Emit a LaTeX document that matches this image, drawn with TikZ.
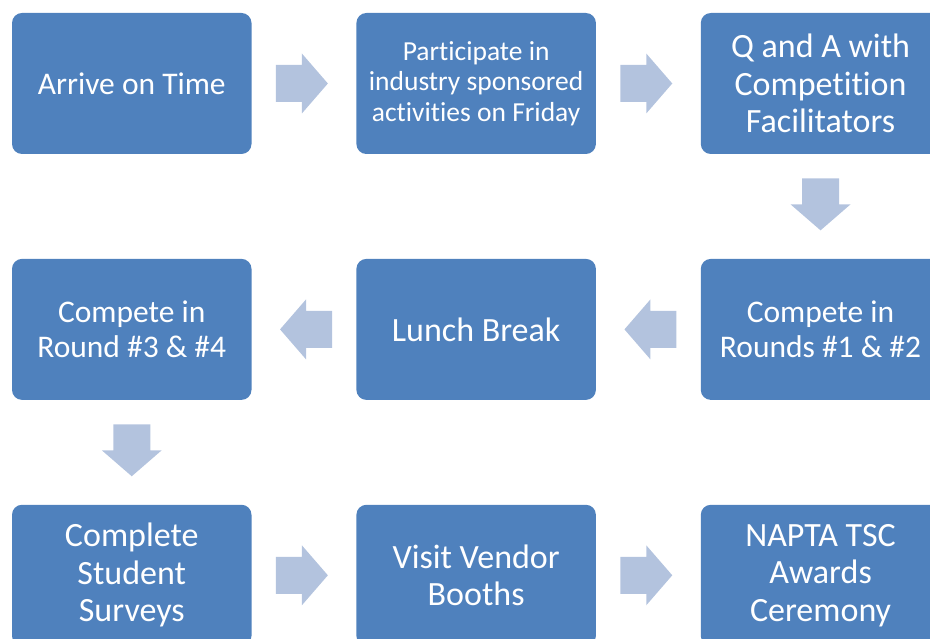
\documentclass[tikz,border=0pt]{standalone}
\usepackage{fontspec}
\setmainfont{Carlito}[Ligatures=NoCommon]
\usetikzlibrary{positioning,calc}
\definecolor{boxblue}{RGB}{79,129,189}
\definecolor{arrowblue}{RGB}{179,195,222}
\tikzset{
	node distance=104.5pt, % gap between two stage boxes
	stage/.style={fill=boxblue, rounded corners=10pt, text=white, align=center, minimum width=239.5pt, minimum height=141pt, inner sep=0pt}, % sets the look of each stage box
	big text/.style={font=\fontsize{34}{37.5}\selectfont},
	mid text/.style={font=\fontsize{31.5}{34.7}\selectfont},
	small text/.style={font=\fontsize{27.5}{30.5}\selectfont},
	flow/.pic={\fill[arrowblue] (-26,-18.5) -- (0,-18.5) -- (0,-30) -- (26,0) -- (0,30) -- (0,18.5) -- (-26,18.5) -- cycle;}, % block arrow, points right
}

\begin{document}
\begin{tikzpicture}[x=1pt,y=1pt]
		\useasboundingbox (0,0) rectangle (930,639);
		\clip (0,0) rectangle (930,639);
		
		\node[stage,mid text] (arrive) at (131.75,555.5) {Arrive on Time};
		\node[stage,small text,right=of arrive] (friday) {Participate in\\industry sponsored\\activities on Friday};
		\node[stage,big text,right=of friday] (qa) {Q and A with\\Competition\\Facilitators};
		\node[stage,mid text,below=of qa] (rounds12) {Compete in\\Rounds \#1 \& \#2};
		\node[stage,big text,left=of rounds12] (lunch) {Lunch Break};
		\node[stage,mid text,left=of lunch] (rounds34) {Compete in\\Round \#3 \& \#4};
		\node[stage,big text,below=of rounds34] (surveys) {Complete\\Student\\Surveys};
		\node[stage,big text,right=of surveys] (vendor) {Visit Vendor\\Booths};
		\node[stage,big text,right=of vendor] (awards) {NAPTA TSC\\Awards\\Ceremony};
		
		\pic at ($(arrive.east)!0.48!(friday.west)$) {flow};
		\pic at ($(friday.east)!0.48!(qa.west)$) {flow};
		\pic[rotate=-90] at ($(qa.south)!0.48!(rounds12.north)$) {flow};
		\pic[rotate=180] at ($(rounds12.west)!0.48!(lunch.east)$) {flow};
		\pic[rotate=180] at ($(lunch.west)!0.48!(rounds34.east)$) {flow};
		\pic[rotate=-90] at ($(rounds34.south)!0.48!(surveys.north)$) {flow};
		\pic at ($(surveys.east)!0.48!(vendor.west)$) {flow};
		\pic at ($(vendor.east)!0.48!(awards.west)$) {flow};
		
	\end{tikzpicture}
\end{document}
